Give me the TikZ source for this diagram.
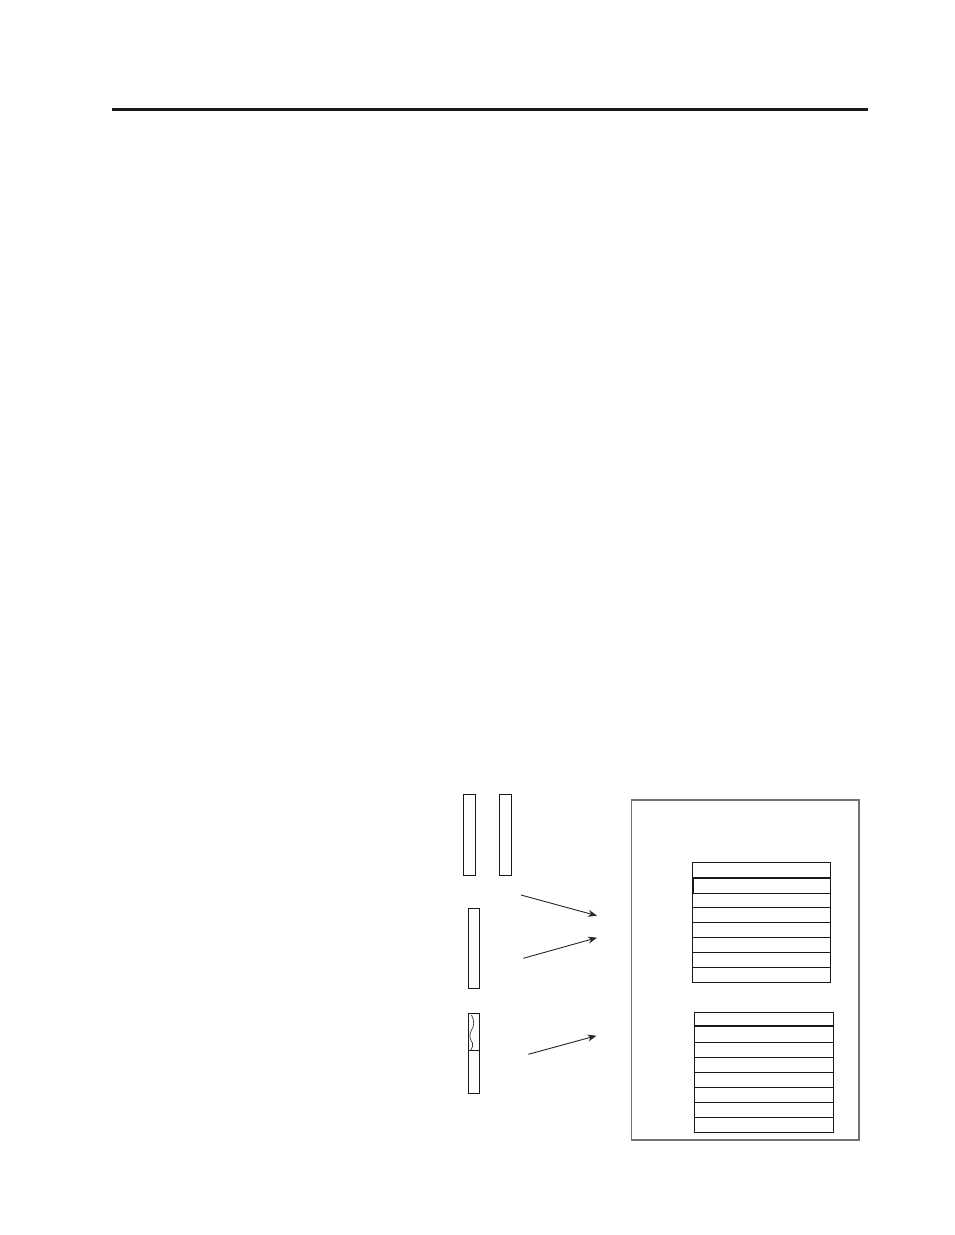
\documentclass[tikz,border=0pt]{standalone}
\usetikzlibrary{arrows.meta}
\begin{document}
\begin{tikzpicture}[x=1pt,y=-1pt,
  bar/.style={draw=black!90,line width=1.1pt,inner sep=0pt,anchor=north west},
  tbl/.style={draw=black!90,line width=1.1pt,inner sep=0pt,anchor=north west},
  rowline/.style={draw=black!90,line width=1.1pt},
  arr/.style={draw=black!85,line width=0.9pt,-{Stealth[length=9pt,width=7pt]}}]
\useasboundingbox (0,0) rectangle (954,1235);
% top rule
\coordinate (rl) at (112,109.5);
\coordinate (rr) at (868,109.5);
\draw[line width=2.2pt,black!90] (rl) -- (rr);
% bars
\node[bar,minimum width=11.4pt,minimum height=81pt] (b1) at (463.3,794.3) {};
\node[bar,minimum width=12pt,minimum height=81pt] (b2) at (499.3,794.3) {};
\node[bar,minimum width=11pt,minimum height=80pt] (b3) at (468.3,908.3) {};
\node[bar,minimum width=11pt,minimum height=79.4pt] (b4) at (468.3,1013.3) {};
\draw[rowline] (b4.west |- 0,1050.7) -- (b4.east |- 0,1050.7);
\draw[black!80,line width=0.7pt] (471.5,1015) .. controls (474.5,1021) and (474.5,1026) .. (471,1031)
  .. controls (469,1035) and (470,1040) .. (472.5,1043) .. controls (473.5,1045) and (472,1048) .. (471,1050);
% frame
\node[draw=black!55,line width=1.2pt,inner sep=0pt,anchor=north west,minimum width=227.6pt,minimum height=340pt] (frame) at (630.7,799.3) {};
% table 1
\node[tbl,minimum width=138.6pt,minimum height=120pt] (t1) at (691.7,862.3) {};
\foreach \yy in {893.7,907.3,922.3,937.3,952.3,967.3}
  \draw[rowline] (t1.west |- 0,\yy) -- (t1.east |- 0,\yy);
\draw[black!90,line width=2pt] (692.6,893.7) -- (692.6,877.7) -- (t1.east |- 0,877.7);
% table 2
\node[tbl,minimum width=139pt,minimum height=120pt] (t2) at (694.3,1012.3) {};
\foreach \yy in {1026,1042.3,1057.3,1072.3,1087.3,1102.3,1117.3}
  \draw[rowline] (t2.west |- 0,\yy) -- (t2.east |- 0,\yy);
% arrows
\coordinate (a1s) at (521,895);
\coordinate (a1e) at (597,915.7);
\coordinate (a2s) at (523.3,958.3);
\coordinate (a2e) at (597,937.7);
\coordinate (a3s) at (528.3,1054.3);
\coordinate (a3e) at (596.5,1035.7);
\draw[arr] (a1s) -- (a1e);
\draw[arr] (a2s) -- (a2e);
\draw[arr] (a3s) -- (a3e);
\end{tikzpicture}
\end{document}
